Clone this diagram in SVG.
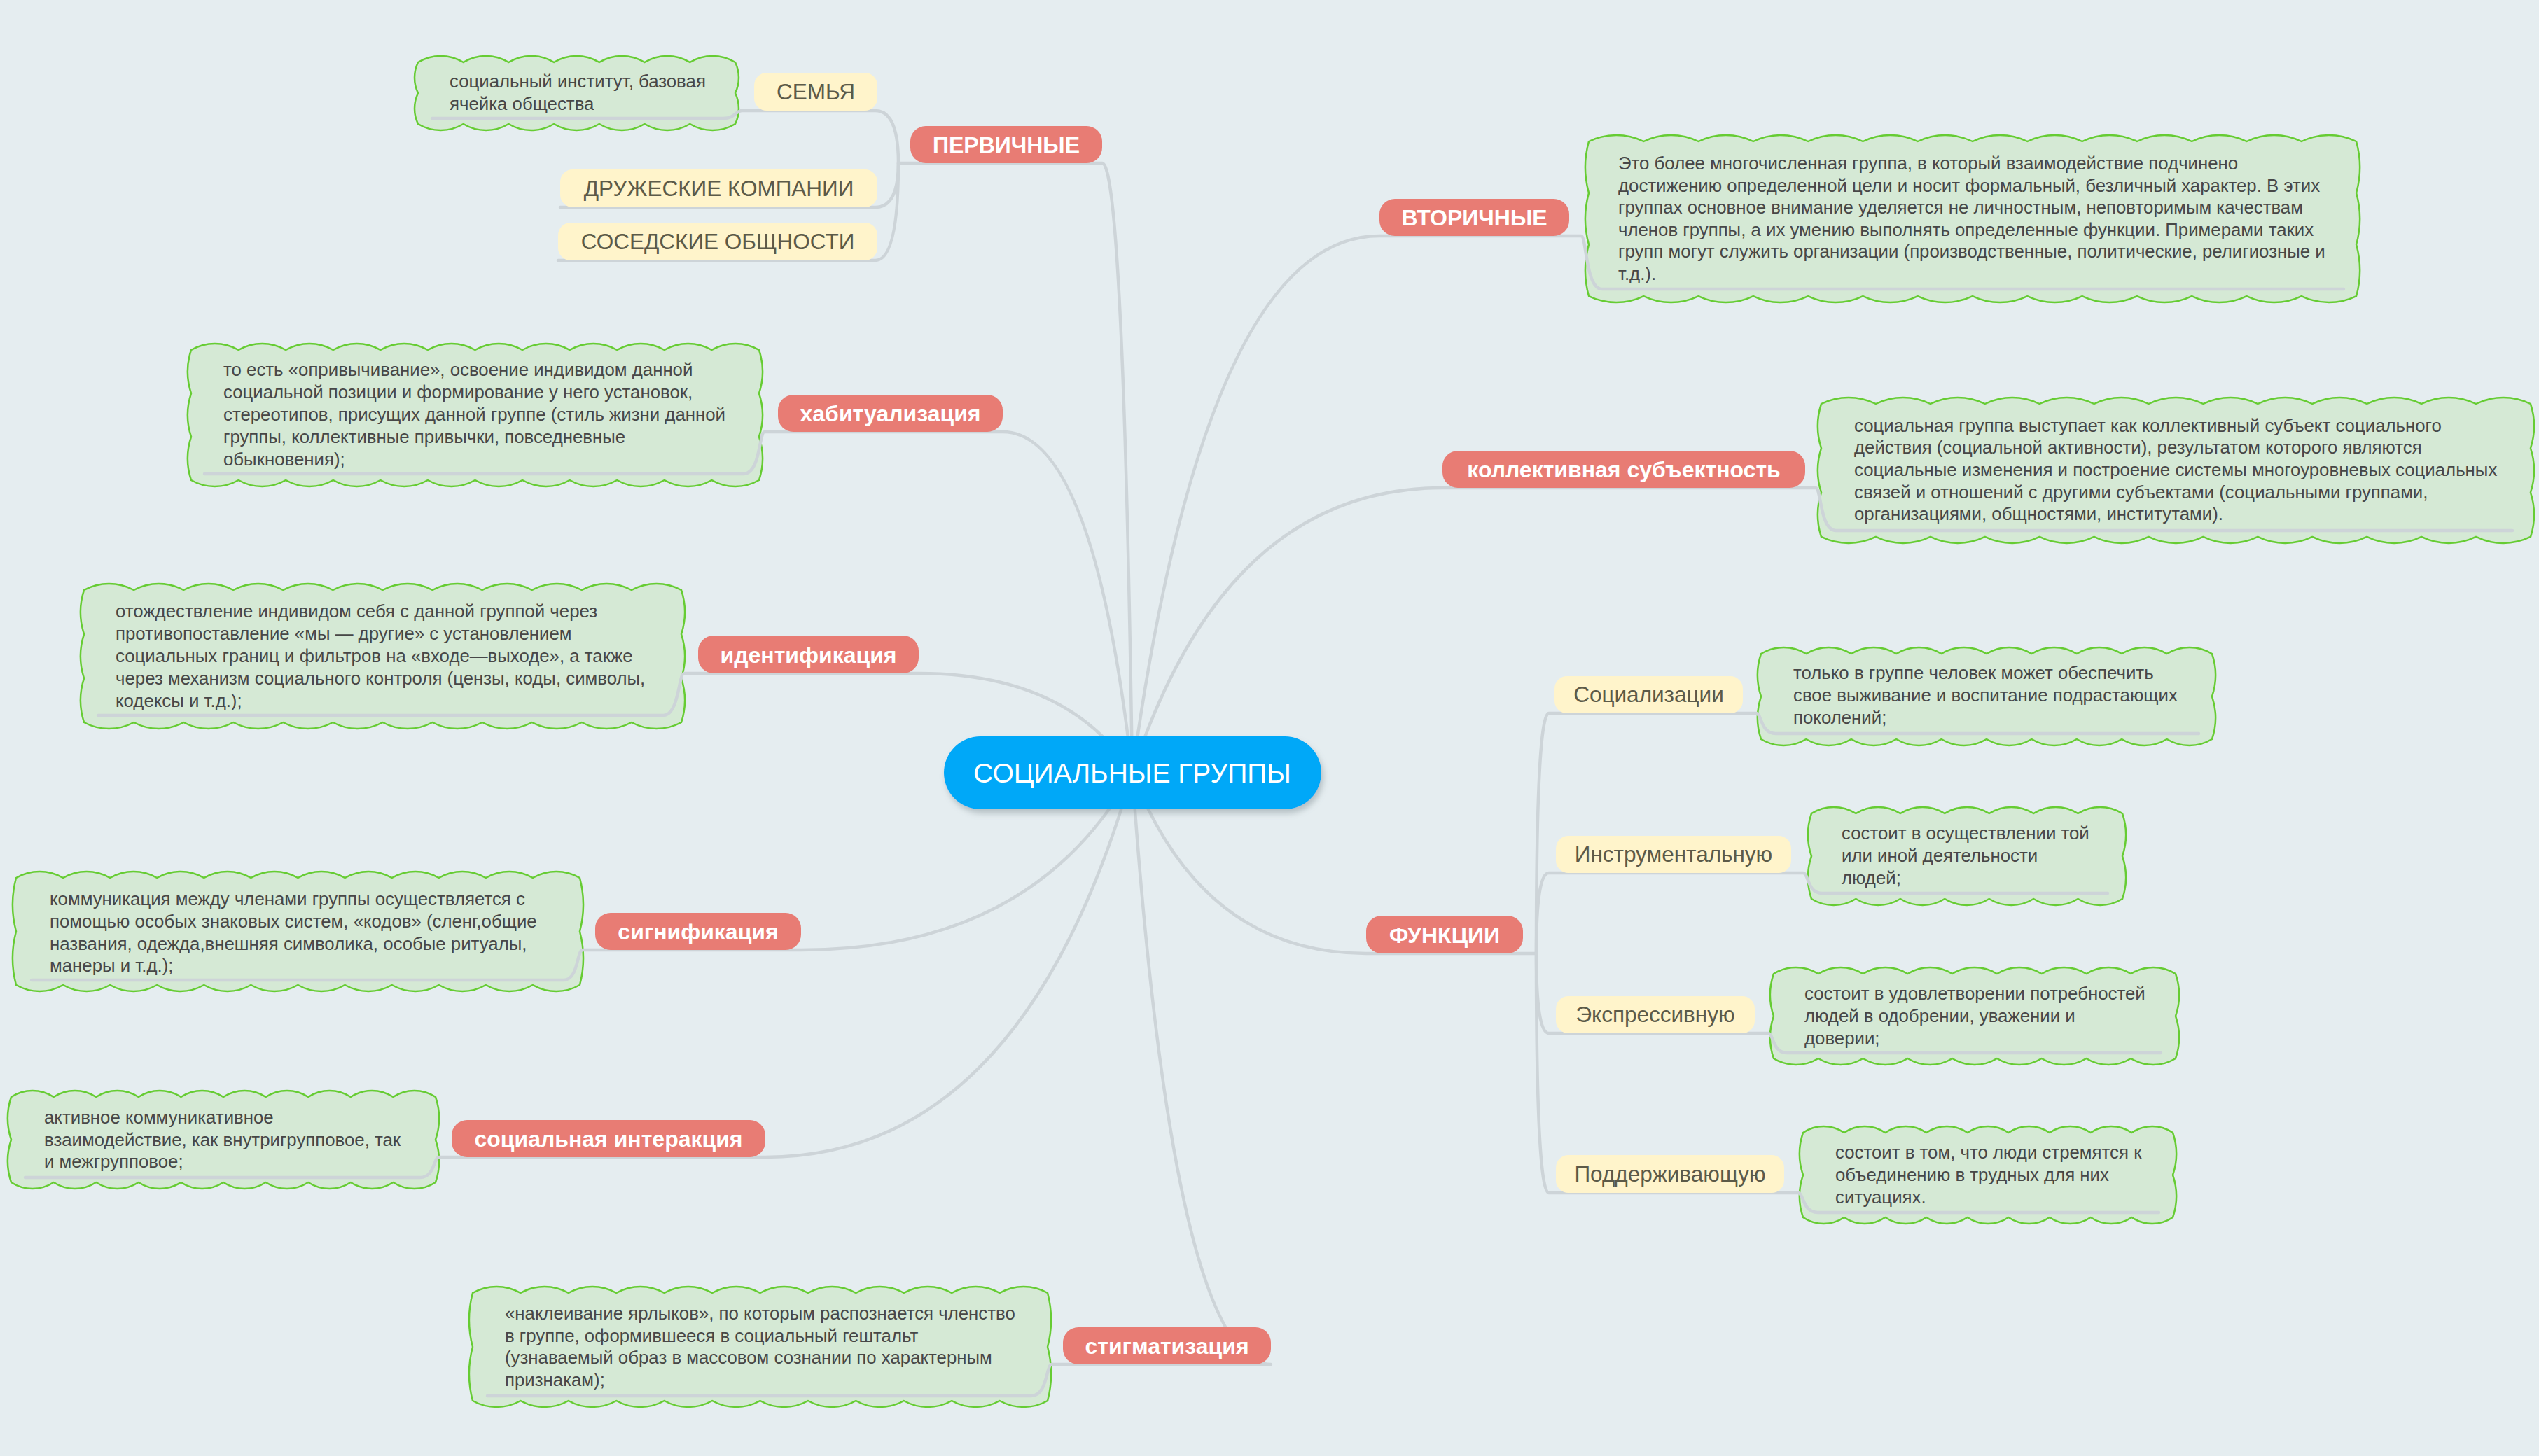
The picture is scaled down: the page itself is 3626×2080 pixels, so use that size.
<svg xmlns="http://www.w3.org/2000/svg" width="3626" height="2080" viewBox="0 0 3626 2080">
  <style>
    .conn { fill: none; stroke: #cdd4d8; stroke-width: 4.5; stroke-linecap: round; stroke-linejoin: round; }
    .cloud { fill: #d5e9d5; stroke: #66cc33; stroke-width: 2.5; stroke-linejoin: round; }
    .red { fill: #e87c74; }
    .yel { fill: #fff4cb; }
    .tr { font-family: "Liberation Sans", Arial, sans-serif; font-size: 32px; font-weight: bold; fill: #ffffff; text-anchor: middle; }
    .ty { font-family: "Liberation Sans", Arial, sans-serif; font-size: 31.5px; fill: #5c5a48; text-anchor: middle; }
    .tc { font-family: "Liberation Sans", Arial, sans-serif; font-size: 25.8px; fill: #474747; }
    .tm { font-family: "Liberation Sans", Arial, sans-serif; font-size: 39px; fill: #ffffff; text-anchor: middle; }
  </style>
  <defs>
    <filter id="shadow" x="-10%" y="-20%" width="120%" height="150%">
      <feDropShadow dx="3" dy="6" stdDeviation="4" flood-color="#7a8a90" flood-opacity="0.45"/>
    </filter>
  </defs>

  <rect width="3626" height="2080" fill="#e5edf0"/>

  <!-- note clouds -->
  <g id="note-semya">
    <path class="cloud" d="M597,89 a62.66 62.66 0 0 1 64.71 0 a62.66 62.66 0 0 1 64.71 0 a62.66 62.66 0 0 1 64.71 0 a62.66 62.66 0 0 1 64.71 0 a62.66 62.66 0 0 1 64.71 0 a62.66 62.66 0 0 1 64.71 0 a62.66 62.66 0 0 1 64.71 0 a50.9 50.9 0 0 1 0 44 a50.9 50.9 0 0 1 0 44 a62.66 62.66 0 0 1 -64.71 0 a62.66 62.66 0 0 1 -64.71 0 a62.66 62.66 0 0 1 -64.71 0 a62.66 62.66 0 0 1 -64.71 0 a62.66 62.66 0 0 1 -64.71 0 a62.66 62.66 0 0 1 -64.71 0 a62.66 62.66 0 0 1 -64.71 0 a50.9 50.9 0 0 1 0 -44 a50.9 50.9 0 0 1 0 -44 Z"/>
    <text class="tc" x="642" y="125">социальный институт, базовая</text>
    <text class="tc" x="642" y="157">ячейка общества</text>
  </g>

  <g id="note-vtorichnye">
    <path class="cloud" d="M2269,202 a89.6 89.6 0 0 1 78.29 0 a89.6 89.6 0 0 1 78.29 0 a89.6 89.6 0 0 1 78.29 0 a89.6 89.6 0 0 1 78.29 0 a89.6 89.6 0 0 1 78.29 0 a89.6 89.6 0 0 1 78.29 0 a89.6 89.6 0 0 1 78.29 0 a89.6 89.6 0 0 1 78.29 0 a89.6 89.6 0 0 1 78.29 0 a89.6 89.6 0 0 1 78.29 0 a89.6 89.6 0 0 1 78.29 0 a89.6 89.6 0 0 1 78.29 0 a89.6 89.6 0 0 1 78.29 0 a89.6 89.6 0 0 1 78.29 0 a138.2 138.2 0 0 1 0 73.67 a138.2 138.2 0 0 1 0 73.67 a138.2 138.2 0 0 1 0 73.67 a89.6 89.6 0 0 1 -78.29 0 a89.6 89.6 0 0 1 -78.29 0 a89.6 89.6 0 0 1 -78.29 0 a89.6 89.6 0 0 1 -78.29 0 a89.6 89.6 0 0 1 -78.29 0 a89.6 89.6 0 0 1 -78.29 0 a89.6 89.6 0 0 1 -78.29 0 a89.6 89.6 0 0 1 -78.29 0 a89.6 89.6 0 0 1 -78.29 0 a89.6 89.6 0 0 1 -78.29 0 a89.6 89.6 0 0 1 -78.29 0 a89.6 89.6 0 0 1 -78.29 0 a89.6 89.6 0 0 1 -78.29 0 a89.6 89.6 0 0 1 -78.29 0 a138.2 138.2 0 0 1 0 -73.67 a138.2 138.2 0 0 1 0 -73.67 a138.2 138.2 0 0 1 0 -73.67 Z"/>
    <text class="tc" x="2311" y="242">Это более многочисленная группа, в который взаимодействие подчинено</text>
    <text class="tc" x="2311" y="274">достижению определенной цели и носит формальный, безличный характер. В этих</text>
    <text class="tc" x="2311" y="305">группах основное внимание уделяется не личностным, неповторимым качествам</text>
    <text class="tc" x="2311" y="337">членов группы, а их умению выполнять определенные функции. Примерами таких</text>
    <text class="tc" x="2311" y="368">групп могут служить организации (производственные, политические, религиозные и</text>
    <text class="tc" x="2311" y="400">т.д.).</text>
  </g>

  <g id="note-habit">
    <path class="cloud" d="M273,500 a67.9 67.9 0 0 1 67.58 0 a67.9 67.9 0 0 1 67.58 0 a67.9 67.9 0 0 1 67.58 0 a67.9 67.9 0 0 1 67.58 0 a67.9 67.9 0 0 1 67.58 0 a67.9 67.9 0 0 1 67.58 0 a67.9 67.9 0 0 1 67.58 0 a67.9 67.9 0 0 1 67.58 0 a67.9 67.9 0 0 1 67.58 0 a67.9 67.9 0 0 1 67.58 0 a67.9 67.9 0 0 1 67.58 0 a67.9 67.9 0 0 1 67.58 0 a98.6 98.6 0 0 1 0 62 a98.6 98.6 0 0 1 0 62 a98.6 98.6 0 0 1 0 62 a67.9 67.9 0 0 1 -67.58 0 a67.9 67.9 0 0 1 -67.58 0 a67.9 67.9 0 0 1 -67.58 0 a67.9 67.9 0 0 1 -67.58 0 a67.9 67.9 0 0 1 -67.58 0 a67.9 67.9 0 0 1 -67.58 0 a67.9 67.9 0 0 1 -67.58 0 a67.9 67.9 0 0 1 -67.58 0 a67.9 67.9 0 0 1 -67.58 0 a67.9 67.9 0 0 1 -67.58 0 a67.9 67.9 0 0 1 -67.58 0 a67.9 67.9 0 0 1 -67.58 0 a98.6 98.6 0 0 1 0 -62 a98.6 98.6 0 0 1 0 -62 a98.6 98.6 0 0 1 0 -62 Z"/>
    <text class="tc" x="319" y="537">то есть «опривычивание», освоение индивидом данной</text>
    <text class="tc" x="319" y="569">социальной позиции и формирование у него установок,</text>
    <text class="tc" x="319" y="601">стереотипов, присущих данной группе (стиль жизни данной</text>
    <text class="tc" x="319" y="633">группы, коллективные привычки, повседневные</text>
    <text class="tc" x="319" y="665">обыкновения);</text>
  </g>

  <g id="note-subject">
    <path class="cloud" d="M2601,577 a88.8 88.8 0 0 1 77.92 0 a88.8 88.8 0 0 1 77.92 0 a88.8 88.8 0 0 1 77.92 0 a88.8 88.8 0 0 1 77.92 0 a88.8 88.8 0 0 1 77.92 0 a88.8 88.8 0 0 1 77.92 0 a88.8 88.8 0 0 1 77.92 0 a88.8 88.8 0 0 1 77.92 0 a88.8 88.8 0 0 1 77.92 0 a88.8 88.8 0 0 1 77.92 0 a88.8 88.8 0 0 1 77.92 0 a88.8 88.8 0 0 1 77.92 0 a88.8 88.8 0 0 1 77.92 0 a102.8 102.8 0 0 1 0 63.33 a102.8 102.8 0 0 1 0 63.33 a102.8 102.8 0 0 1 0 63.33 a88.8 88.8 0 0 1 -77.92 0 a88.8 88.8 0 0 1 -77.92 0 a88.8 88.8 0 0 1 -77.92 0 a88.8 88.8 0 0 1 -77.92 0 a88.8 88.8 0 0 1 -77.92 0 a88.8 88.8 0 0 1 -77.92 0 a88.8 88.8 0 0 1 -77.92 0 a88.8 88.8 0 0 1 -77.92 0 a88.8 88.8 0 0 1 -77.92 0 a88.8 88.8 0 0 1 -77.92 0 a88.8 88.8 0 0 1 -77.92 0 a88.8 88.8 0 0 1 -77.92 0 a88.8 88.8 0 0 1 -77.92 0 a102.8 102.8 0 0 1 0 -63.33 a102.8 102.8 0 0 1 0 -63.33 a102.8 102.8 0 0 1 0 -63.33 Z"/>
    <text class="tc" x="2648" y="617">социальная группа выступает как коллективный субъект социального</text>
    <text class="tc" x="2648" y="648">действия (социальной активности), результатом которого являются</text>
    <text class="tc" x="2648" y="680">социальные изменения и построение системы многоуровневых социальных</text>
    <text class="tc" x="2648" y="712">связей и отношений с другими субъектами (социальными группами,</text>
    <text class="tc" x="2648" y="743">организациями, общностями, институтами).</text>
  </g>

  <g id="note-ident">
    <path class="cloud" d="M120,843 a74.7 74.7 0 0 1 71.08 0 a74.7 74.7 0 0 1 71.08 0 a74.7 74.7 0 0 1 71.08 0 a74.7 74.7 0 0 1 71.08 0 a74.7 74.7 0 0 1 71.08 0 a74.7 74.7 0 0 1 71.08 0 a74.7 74.7 0 0 1 71.08 0 a74.7 74.7 0 0 1 71.08 0 a74.7 74.7 0 0 1 71.08 0 a74.7 74.7 0 0 1 71.08 0 a74.7 74.7 0 0 1 71.08 0 a74.7 74.7 0 0 1 71.08 0 a101.7 101.7 0 0 1 0 63 a101.7 101.7 0 0 1 0 63 a101.7 101.7 0 0 1 0 63 a74.7 74.7 0 0 1 -71.08 0 a74.7 74.7 0 0 1 -71.08 0 a74.7 74.7 0 0 1 -71.08 0 a74.7 74.7 0 0 1 -71.08 0 a74.7 74.7 0 0 1 -71.08 0 a74.7 74.7 0 0 1 -71.08 0 a74.7 74.7 0 0 1 -71.08 0 a74.7 74.7 0 0 1 -71.08 0 a74.7 74.7 0 0 1 -71.08 0 a74.7 74.7 0 0 1 -71.08 0 a74.7 74.7 0 0 1 -71.08 0 a74.7 74.7 0 0 1 -71.08 0 a101.7 101.7 0 0 1 0 -63 a101.7 101.7 0 0 1 0 -63 a101.7 101.7 0 0 1 0 -63 Z"/>
    <text class="tc" x="165" y="882">отождествление индивидом себя с данной группой через</text>
    <text class="tc" x="165" y="914">противопоставление «мы — другие» с установлением</text>
    <text class="tc" x="165" y="946">социальных границ и фильтров на «входе—выходе», а также</text>
    <text class="tc" x="165" y="978">через механизм социального контроля (цензы, коды, символы,</text>
    <text class="tc" x="165" y="1010">кодексы и т.д.);</text>
  </g>

  <g id="note-signif">
    <path class="cloud" d="M23,1254 a67 67 0 0 1 67.08 0 a67 67 0 0 1 67.08 0 a67 67 0 0 1 67.08 0 a67 67 0 0 1 67.08 0 a67 67 0 0 1 67.08 0 a67 67 0 0 1 67.08 0 a67 67 0 0 1 67.08 0 a67 67 0 0 1 67.08 0 a67 67 0 0 1 67.08 0 a67 67 0 0 1 67.08 0 a67 67 0 0 1 67.08 0 a67 67 0 0 1 67.08 0 a148.8 148.8 0 0 1 0 76.5 a148.8 148.8 0 0 1 0 76.5 a67 67 0 0 1 -67.08 0 a67 67 0 0 1 -67.08 0 a67 67 0 0 1 -67.08 0 a67 67 0 0 1 -67.08 0 a67 67 0 0 1 -67.08 0 a67 67 0 0 1 -67.08 0 a67 67 0 0 1 -67.08 0 a67 67 0 0 1 -67.08 0 a67 67 0 0 1 -67.08 0 a67 67 0 0 1 -67.08 0 a67 67 0 0 1 -67.08 0 a67 67 0 0 1 -67.08 0 a148.8 148.8 0 0 1 0 -76.5 a148.8 148.8 0 0 1 0 -76.5 Z"/>
    <text class="tc" x="71" y="1293">коммуникация между членами группы осуществляется с</text>
    <text class="tc" x="71" y="1325">помощью особых знаковых систем, «кодов» (сленг,общие</text>
    <text class="tc" x="71" y="1357">названия, одежда,внешняя символика, особые ритуалы,</text>
    <text class="tc" x="71" y="1388">манеры и т.д.);</text>
  </g>

  <g id="note-interact">
    <path class="cloud" d="M16,1567 a55.5 55.5 0 0 1 60.6 0 a55.5 55.5 0 0 1 60.6 0 a55.5 55.5 0 0 1 60.6 0 a55.5 55.5 0 0 1 60.6 0 a55.5 55.5 0 0 1 60.6 0 a55.5 55.5 0 0 1 60.6 0 a55.5 55.5 0 0 1 60.6 0 a55.5 55.5 0 0 1 60.6 0 a55.5 55.5 0 0 1 60.6 0 a55.5 55.5 0 0 1 60.6 0 a95.5 95.5 0 0 1 0 61 a95.5 95.5 0 0 1 0 61 a55.5 55.5 0 0 1 -60.6 0 a55.5 55.5 0 0 1 -60.6 0 a55.5 55.5 0 0 1 -60.6 0 a55.5 55.5 0 0 1 -60.6 0 a55.5 55.5 0 0 1 -60.6 0 a55.5 55.5 0 0 1 -60.6 0 a55.5 55.5 0 0 1 -60.6 0 a55.5 55.5 0 0 1 -60.6 0 a55.5 55.5 0 0 1 -60.6 0 a55.5 55.5 0 0 1 -60.6 0 a95.5 95.5 0 0 1 0 -61 a95.5 95.5 0 0 1 0 -61 Z"/>
    <text class="tc" x="63" y="1605">активное коммуникативное</text>
    <text class="tc" x="63" y="1637">взаимодействие, как внутригрупповое, так</text>
    <text class="tc" x="63" y="1668">и межгрупповое;</text>
  </g>

  <g id="note-stigma">
    <path class="cloud" d="M675,1847 a69.5 69.5 0 0 1 68.42 0 a69.5 69.5 0 0 1 68.42 0 a69.5 69.5 0 0 1 68.42 0 a69.5 69.5 0 0 1 68.42 0 a69.5 69.5 0 0 1 68.42 0 a69.5 69.5 0 0 1 68.42 0 a69.5 69.5 0 0 1 68.42 0 a69.5 69.5 0 0 1 68.42 0 a69.5 69.5 0 0 1 68.42 0 a69.5 69.5 0 0 1 68.42 0 a69.5 69.5 0 0 1 68.42 0 a69.5 69.5 0 0 1 68.42 0 a150.7 150.7 0 0 1 0 77 a150.7 150.7 0 0 1 0 77 a69.5 69.5 0 0 1 -68.42 0 a69.5 69.5 0 0 1 -68.42 0 a69.5 69.5 0 0 1 -68.42 0 a69.5 69.5 0 0 1 -68.42 0 a69.5 69.5 0 0 1 -68.42 0 a69.5 69.5 0 0 1 -68.42 0 a69.5 69.5 0 0 1 -68.42 0 a69.5 69.5 0 0 1 -68.42 0 a69.5 69.5 0 0 1 -68.42 0 a69.5 69.5 0 0 1 -68.42 0 a69.5 69.5 0 0 1 -68.42 0 a69.5 69.5 0 0 1 -68.42 0 a150.7 150.7 0 0 1 0 -77 a150.7 150.7 0 0 1 0 -77 Z"/>
    <text class="tc" x="721" y="1885">«наклеивание ярлыков», по которым распознается членство</text>
    <text class="tc" x="721" y="1917">в группе, оформившееся в социальный гештальт</text>
    <text class="tc" x="721" y="1948">(узнаваемый образ в массовом сознании по характерным</text>
    <text class="tc" x="721" y="1980">признакам);</text>
  </g>

  <g id="note-socializ">
    <path class="cloud" d="M2515,934 a62.1 62.1 0 0 1 64.4 0 a62.1 62.1 0 0 1 64.4 0 a62.1 62.1 0 0 1 64.4 0 a62.1 62.1 0 0 1 64.4 0 a62.1 62.1 0 0 1 64.4 0 a62.1 62.1 0 0 1 64.4 0 a62.1 62.1 0 0 1 64.4 0 a62.1 62.1 0 0 1 64.4 0 a62.1 62.1 0 0 1 64.4 0 a62.1 62.1 0 0 1 64.4 0 a95.5 95.5 0 0 1 0 61 a95.5 95.5 0 0 1 0 61 a62.1 62.1 0 0 1 -64.4 0 a62.1 62.1 0 0 1 -64.4 0 a62.1 62.1 0 0 1 -64.4 0 a62.1 62.1 0 0 1 -64.4 0 a62.1 62.1 0 0 1 -64.4 0 a62.1 62.1 0 0 1 -64.4 0 a62.1 62.1 0 0 1 -64.4 0 a62.1 62.1 0 0 1 -64.4 0 a62.1 62.1 0 0 1 -64.4 0 a62.1 62.1 0 0 1 -64.4 0 a95.5 95.5 0 0 1 0 -61 a95.5 95.5 0 0 1 0 -61 Z"/>
    <text class="tc" x="2561" y="970">только в группе человек может обеспечить</text>
    <text class="tc" x="2561" y="1002">свое выживание и воспитание подрастающих</text>
    <text class="tc" x="2561" y="1034">поколений;</text>
  </g>

  <g id="note-instrum">
    <path class="cloud" d="M2587,1162 a60.4 60.4 0 0 1 63.43 0 a60.4 60.4 0 0 1 63.43 0 a60.4 60.4 0 0 1 63.43 0 a60.4 60.4 0 0 1 63.43 0 a60.4 60.4 0 0 1 63.43 0 a60.4 60.4 0 0 1 63.43 0 a60.4 60.4 0 0 1 63.43 0 a95.5 95.5 0 0 1 0 61 a95.5 95.5 0 0 1 0 61 a60.4 60.4 0 0 1 -63.43 0 a60.4 60.4 0 0 1 -63.43 0 a60.4 60.4 0 0 1 -63.43 0 a60.4 60.4 0 0 1 -63.43 0 a60.4 60.4 0 0 1 -63.43 0 a60.4 60.4 0 0 1 -63.43 0 a60.4 60.4 0 0 1 -63.43 0 a95.5 95.5 0 0 1 0 -61 a95.5 95.5 0 0 1 0 -61 Z"/>
    <text class="tc" x="2630" y="1199">состоит в осуществлении той</text>
    <text class="tc" x="2630" y="1231">или иной деятельности</text>
    <text class="tc" x="2630" y="1263">людей;</text>
  </g>

  <g id="note-express">
    <path class="cloud" d="M2533,1391 a61 61 0 0 1 63.78 0 a61 61 0 0 1 63.78 0 a61 61 0 0 1 63.78 0 a61 61 0 0 1 63.78 0 a61 61 0 0 1 63.78 0 a61 61 0 0 1 63.78 0 a61 61 0 0 1 63.78 0 a61 61 0 0 1 63.78 0 a61 61 0 0 1 63.78 0 a94 94 0 0 1 0 60.5 a94 94 0 0 1 0 60.5 a61 61 0 0 1 -63.78 0 a61 61 0 0 1 -63.78 0 a61 61 0 0 1 -63.78 0 a61 61 0 0 1 -63.78 0 a61 61 0 0 1 -63.78 0 a61 61 0 0 1 -63.78 0 a61 61 0 0 1 -63.78 0 a61 61 0 0 1 -63.78 0 a61 61 0 0 1 -63.78 0 a94 94 0 0 1 0 -60.5 a94 94 0 0 1 0 -60.5 Z"/>
    <text class="tc" x="2577" y="1428">состоит в удовлетворении потребностей</text>
    <text class="tc" x="2577" y="1460">людей в одобрении, уважении и</text>
    <text class="tc" x="2577" y="1492">доверии;</text>
  </g>

  <g id="note-support">
    <path class="cloud" d="M2575,1618 a52.3 52.3 0 0 1 58.67 0 a52.3 52.3 0 0 1 58.67 0 a52.3 52.3 0 0 1 58.67 0 a52.3 52.3 0 0 1 58.67 0 a52.3 52.3 0 0 1 58.67 0 a52.3 52.3 0 0 1 58.67 0 a52.3 52.3 0 0 1 58.67 0 a52.3 52.3 0 0 1 58.67 0 a52.3 52.3 0 0 1 58.67 0 a94 94 0 0 1 0 60.5 a94 94 0 0 1 0 60.5 a52.3 52.3 0 0 1 -58.67 0 a52.3 52.3 0 0 1 -58.67 0 a52.3 52.3 0 0 1 -58.67 0 a52.3 52.3 0 0 1 -58.67 0 a52.3 52.3 0 0 1 -58.67 0 a52.3 52.3 0 0 1 -58.67 0 a52.3 52.3 0 0 1 -58.67 0 a52.3 52.3 0 0 1 -58.67 0 a52.3 52.3 0 0 1 -58.67 0 a94 94 0 0 1 0 -60.5 a94 94 0 0 1 0 -60.5 Z"/>
    <text class="tc" x="2621" y="1655">состоит в том, что люди стремятся к</text>
    <text class="tc" x="2621" y="1687">объединению в трудных для них</text>
    <text class="tc" x="2621" y="1719">ситуациях.</text>
  </g>

  <!-- connectors: branch curves from the centre, underlines and note links -->
  <g id="connectors">
    <path class="conn" d="M1617,1104 Q1604,233 1574,233 L1283,233"/>
    <path class="conn" d="M1283,233 Q1283,158 1250,158 L1060,158 C1050,158 1050,169 1033,169 L617,169"/>
    <path class="conn" d="M1283,233 Q1283,296 1250,296 L800,296"/>
    <path class="conn" d="M1283,233 Q1283,372 1250,372 L797,372"/>
    <path class="conn" d="M1617,1104 Q1723,337 1970,337 L2258,337 C2266,337 2264,413 2288,413 L3347,413"/>
    <path class="conn" d="M1617,1104 Q1562,617 1432,617 L1092,617 C1084,617 1086,677 1062,677 L292,677"/>
    <path class="conn" d="M1617,1104 Q1750,697 2060,697 L2593,697 C2601,697 2599,758 2622,758 L3588,758"/>
    <path class="conn" d="M1617,1104 Q1525,962 1312,962 L977,962 C969,962 970,1022 947,1022 L140,1022"/>
    <path class="conn" d="M1617,1104 Q1475,1357 1144,1357 L832,1357 C824,1357 826,1400 805,1400 L45,1400"/>
    <path class="conn" d="M1617,1104 Q1460,1653 1093,1653 L627,1653 C619,1653 621,1682 600,1682 L36,1682"/>
    <path class="conn" d="M1617,1104 Q1676,1949 1815,1949 L1502,1949 C1494,1949 1496,1994 1473,1994 L696,1994"/>
    <path class="conn" d="M1617,1104 Q1717,1362 1951,1362 L2194,1362"/>
    <path class="conn" d="M2194,1362 Q2194,1019 2212,1019 L2508,1019 C2516,1019 2514,1048 2536,1048 L3140,1048"/>
    <path class="conn" d="M2194,1362 Q2194,1247 2212,1247 L2575,1247 C2583,1247 2581,1276 2602,1276 L3010,1276"/>
    <path class="conn" d="M2194,1362 Q2194,1476 2212,1476 L2525,1476 C2533,1476 2531,1504 2552,1504 L3086,1504"/>
    <path class="conn" d="M2194,1362 Q2194,1704 2212,1704 L2568,1704 C2576,1704 2574,1732 2596,1732 L3083,1732"/>
  </g>

  <!-- central topic -->
  <g id="root">
    <rect x="1348" y="1052" width="539" height="104" rx="52" fill="#02a8f8" filter="url(#shadow)"/>
    <text class="tm" x="1617" y="1118">СОЦИАЛЬНЫЕ ГРУППЫ</text>
  </g>

  <!-- main branches -->
  <g id="pervichnye"><rect class="red" x="1300" y="180" width="274" height="53" rx="22"/><text class="tr" x="1437" y="218">ПЕРВИЧНЫЕ</text></g>
  <g id="vtorichnye"><rect class="red" x="1970" y="284" width="271" height="53" rx="22"/><text class="tr" x="2105.5" y="322">ВТОРИЧНЫЕ</text></g>
  <g id="habit"><rect class="red" x="1111" y="564" width="321" height="53" rx="22"/><text class="tr" x="1271.5" y="602">хабитуализация</text></g>
  <g id="subject"><rect class="red" x="2060" y="644" width="518" height="53" rx="22"/><text class="tr" x="2319" y="682">коллективная субъектность</text></g>
  <g id="ident"><rect class="red" x="997" y="908" width="315" height="54" rx="22"/><text class="tr" x="1154.5" y="947">идентификация</text></g>
  <g id="signif"><rect class="red" x="850" y="1304" width="294" height="53" rx="22"/><text class="tr" x="997" y="1342">сигнификация</text></g>
  <g id="interact"><rect class="red" x="645" y="1600" width="448" height="53" rx="22"/><text class="tr" x="869" y="1638">социальная интеракция</text></g>
  <g id="stigma"><rect class="red" x="1518" y="1896" width="297" height="53" rx="22"/><text class="tr" x="1666.5" y="1934">стигматизация</text></g>
  <g id="funkcii"><rect class="red" x="1951" y="1308" width="224" height="54" rx="22"/><text class="tr" x="2063" y="1347">ФУНКЦИИ</text></g>

  <!-- sub-topics -->
  <g id="semya"><rect class="yel" x="1077" y="104" width="176" height="54" rx="18"/><text class="ty" x="1165" y="142">СЕМЬЯ</text></g>
  <g id="druzh"><rect class="yel" x="800" y="242" width="453" height="54" rx="18"/><text class="ty" x="1026.5" y="280">ДРУЖЕСКИЕ КОМПАНИИ</text></g>
  <g id="sosed"><rect class="yel" x="797" y="318" width="456" height="54" rx="18"/><text class="ty" x="1025" y="356">СОСЕДСКИЕ ОБЩНОСТИ</text></g>
  <g id="socializ"><rect class="yel" x="2220" y="966" width="269" height="53" rx="18"/><text class="ty" x="2354.5" y="1003">Социализации</text></g>
  <g id="instrum"><rect class="yel" x="2222" y="1194" width="336" height="53" rx="18"/><text class="ty" x="2390" y="1231">Инструментальную</text></g>
  <g id="express"><rect class="yel" x="2222" y="1423" width="284" height="53" rx="18"/><text class="ty" x="2364" y="1460">Экспрессивную</text></g>
  <g id="support"><rect class="yel" x="2222" y="1650" width="326" height="54" rx="18"/><text class="ty" x="2385" y="1688">Поддерживающую</text></g>
</svg>
